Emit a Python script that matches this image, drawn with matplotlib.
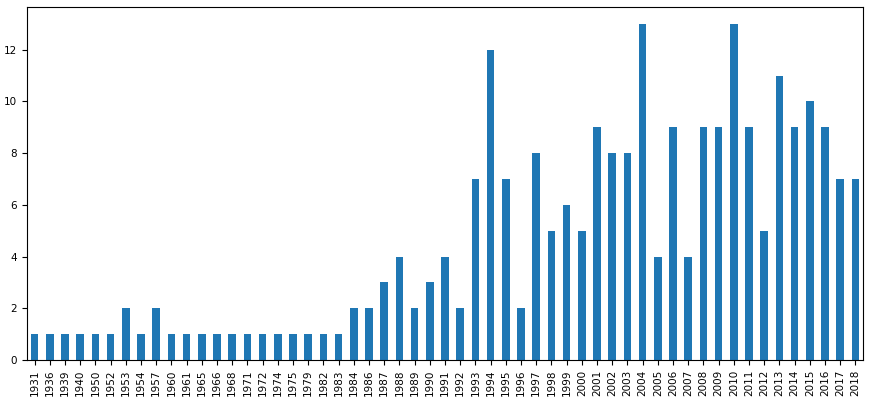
import matplotlib.pyplot as plt
import numpy as np

years = ['1931', '1936', '1939', '1940', '1950', '1952', '1953', '1954', '1957', '1960',
         '1961', '1965', '1966', '1968', '1971', '1972', '1974', '1975', '1979', '1982',
         '1983', '1984', '1986', '1987', '1988', '1989', '1990', '1991', '1992', '1993',
         '1994', '1995', '1996', '1997', '1998', '1999', '2000', '2001', '2002', '2003',
         '2004', '2005', '2006', '2007', '2008', '2009', '2010', '2011', '2012', '2013',
         '2014', '2015', '2016', '2017', '2018']
counts = [1, 1, 1, 1, 1, 1, 2, 1, 2, 1,
          1, 1, 1, 1, 1, 1, 1, 1, 1, 1,
          1, 2, 2, 3, 4, 2, 3, 4, 2, 7,
          12, 7, 2, 8, 5, 6, 5, 9, 8, 8,
          13, 4, 9, 4, 9, 9, 13, 9, 5, 11,
          9, 10, 9, 7, 7]

fig = plt.figure(figsize=(8.71, 4.0), dpi=100)
ax = fig.add_axes([27/871, 40/400, 836/871, 353/400])
x = np.arange(len(years))
ax.bar(x, counts, width=0.5, color='#1f77b4')
ax.set_xlim(-0.5, len(years) - 0.5)
ax.set_ylim(0, max(counts) * 1.05)
ax.set_xticks(x)
ax.set_xticklabels(years, rotation=90, fontsize=7.5)
ax.set_yticks([0, 2, 4, 6, 8, 10, 12])
ax.tick_params(axis='y', labelsize=7.5)

fig.savefig('out.png', dpi=100)
